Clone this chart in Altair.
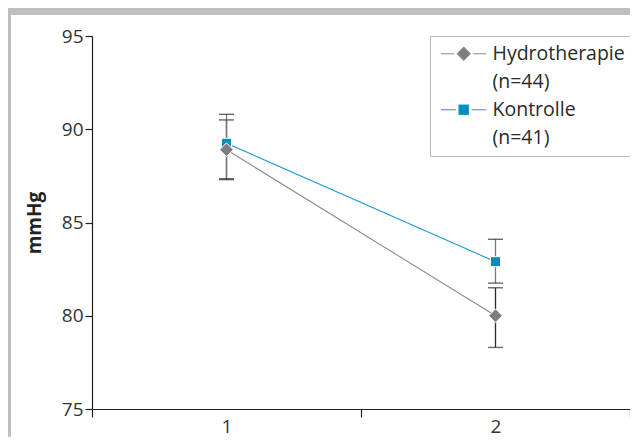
import altair as alt
import pandas as pd

# ---- data ----
time = [1, 2]
hydro_mean = [88.9, 80.0]
hydro_lo = [87.3, 78.3]
hydro_hi = [90.5, 81.5]
kontrolle_mean = [89.25, 82.9]
kontrolle_lo = [87.35, 81.75]
kontrolle_hi = [90.8, 84.1]

series_names = ["Hydrotherapie", "Kontrolle"]
legend_entries = ["Hydrotherapie", "(n=44)", "Kontrolle", "(n=41)"]
y_ticks = [75, 80, 85, 90, 95]
x_ticks = [0.5, 1, 1.5, 2, 2.5]

FONT = "Open Sans"
GRAY_LINE = "#8c8c8c"
GRAY_FILL = "#7d7d80"
BLUE_LINE = "#1e9ad4"
BLUE_FILL = "#0a8cc0"
FRAME = "#bebfc3"

rows = []
for i, t in enumerate(time):
    rows.append(dict(series=series_names[0], time=t, mean=hydro_mean[i], lo=hydro_lo[i], hi=hydro_hi[i]))
    rows.append(dict(series=series_names[1], time=t, mean=kontrolle_mean[i], lo=kontrolle_lo[i], hi=kontrolle_hi[i]))
df = pd.DataFrame(rows)
legend_df = pd.DataFrame({"entry": legend_entries})

W, H = 538, 373
PAD = {"left": 84, "top": 28, "right": 0, "bottom": 28}

x_enc = alt.X(
    "time:Q",
    scale=alt.Scale(domain=[0.5, 2.5], nice=False, zero=False),
    axis=alt.Axis(
        values=x_ticks, title=None, grid=False,
        labelExpr="datum.value % 1 == 0 ? datum.value : ''",
        tickOpacity={"condition": {"test": "datum.value % 1 == 0", "value": 0}, "value": 1},
        tickSize=8, tickColor="#222", tickWidth=1.2,
        domainColor="#222", domainWidth=1.2,
        labelFont=FONT, labelFontSize=19, labelColor="#333", labelPadding=0,
    ),
)
y_scale = alt.Scale(domain=[75, 95], nice=False, zero=False)
y_enc = alt.Y(
    "mean:Q", scale=y_scale,
    axis=alt.Axis(
        values=y_ticks, title="mmHg", grid=False,
        tickSize=7, tickColor="#222", tickWidth=1.2,
        domainColor="#222", domainWidth=1.2,
        labelFont=FONT, labelFontSize=19, labelColor="#333", labelPadding=2,
        titleFont=FONT, titleFontSize=19, titleFontWeight="bold", titleColor="#222",
        titlePadding=17,
    ),
)
color_enc = alt.Color("series:N", scale=alt.Scale(domain=series_names, range=[GRAY_LINE, BLUE_LINE]), legend=None)

base = alt.Chart(df)

lines = base.mark_line(strokeWidth=1.1).encode(x=x_enc, y=y_enc, color=color_enc)

whisk_h = base.transform_filter(alt.datum.series == "Hydrotherapie").mark_rule(color="#2a2a2a", strokeWidth=1.3).encode(
    x="time:Q", y=alt.Y("lo:Q", scale=y_scale), y2="hi:Q")
whisk_k = base.transform_filter(alt.datum.series == "Kontrolle").mark_rule(color="#777777", strokeWidth=1.3).encode(
    x="time:Q", y=alt.Y("lo:Q", scale=y_scale), y2="hi:Q")
cap_lo = base.mark_tick(orient="horizontal", size=15, thickness=1.4, color="#2a2a2a").encode(
    x="time:Q", y=alt.Y("lo:Q", scale=y_scale))
cap_hi = base.mark_tick(orient="horizontal", size=15, thickness=1.4, color="#2a2a2a").encode(
    x="time:Q", y=alt.Y("hi:Q", scale=y_scale))

pts_k = base.transform_filter(alt.datum.series == "Kontrolle").mark_point(
    shape="square", filled=True, size=100, stroke="white", strokeWidth=1, opacity=1, fill=BLUE_FILL
).encode(x="time:Q", y=alt.Y("mean:Q", scale=y_scale))
pts_h = base.transform_filter(alt.datum.series == "Hydrotherapie").mark_point(
    shape="diamond", filled=True, size=190, stroke="white", strokeWidth=1, opacity=1, fill=GRAY_FILL
).encode(x="time:Q", y=alt.Y("mean:Q", scale=y_scale))

# legend carrier (legend drawn from scale domains, no marks drawn)
hydro_sym = "M-3.25,0L-1.35,0M1.35,0L3.2,0M0,-0.93L0.93,0L0,0.93L-0.93,0Z"
kontr_sym = "M-3.25,0L-1.1,0M1.1,0L3.2,0M-0.68,-0.68L0.68,-0.68L0.68,0.68L-0.68,0.68Z"
leg = alt.Legend(
    title=None, orient="none", legendX=338, legendY=0,
    symbolSize=196, symbolOffset=16, labelOffset=19, symbolStrokeWidth=1.2,
    symbolOpacity=1,
    labelFont=FONT, labelFontSize=19.5, labelColor="#2a2a2a", labelLimit=400,
    rowPadding=7, padding=8, strokeColor="#bbbbbb", fillColor="white",
)
carrier = alt.Chart(legend_df).transform_filter("false").mark_point(filled=True, opacity=1).encode(
    fill=alt.Fill("entry:N", scale=alt.Scale(domain=legend_entries,
                  range=[GRAY_FILL, "transparent", BLUE_FILL, "transparent"]), legend=leg),
    stroke=alt.Stroke("entry:N", scale=alt.Scale(domain=legend_entries,
                  range=[GRAY_LINE, "transparent", BLUE_LINE, "transparent"]), legend=leg),
    shape=alt.Shape("entry:N", scale=alt.Scale(domain=legend_entries,
                  range=[hydro_sym, "circle", kontr_sym, "circle"]), legend=leg),
)

# grey frame (top and left bands) of the figure
frame_df = pd.DataFrame({"k": [0]})
frame_top = alt.Chart(frame_df).mark_rect(color=FRAME).encode(
    x=alt.value(-84), x2=alt.value(W), y=alt.value(-28), y2=alt.value(-21))
frame_left = alt.Chart(frame_df).mark_rect(color=FRAME).encode(
    x=alt.value(-84), x2=alt.value(-81), y=alt.value(-28), y2=alt.value(H + 28))

chart = alt.layer(
    frame_top, frame_left, lines, whisk_h, whisk_k, cap_lo, cap_hi, pts_k, pts_h, carrier
).properties(
    width=W, height=H, padding=PAD,
    autosize=alt.AutoSizeParams(type="none"),
    background="white",
).configure_view(stroke=None)

chart.save("out.html", embed_options={"renderer": "svg", "actions": False})
